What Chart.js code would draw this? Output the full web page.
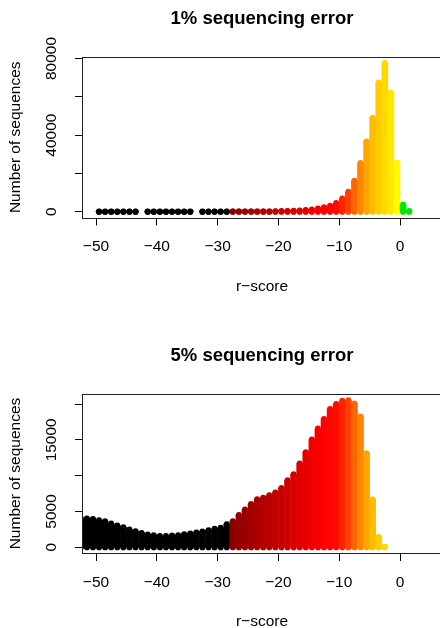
<!DOCTYPE html>
<html><head><meta charset="utf-8">
<script src="https://cdn.jsdelivr.net/npm/chart.js@4.4.1/dist/chart.umd.min.js"></script>
<style>
html,body{margin:0;padding:0;background:#fff;overflow:hidden;width:440px;height:628px;position:relative;}
.wrap{position:absolute;left:0;width:446px;height:320px;}
canvas{display:block;}
</style></head><body>
<div class="wrap" style="top:0px"><canvas id="c1" width="446" height="320"></canvas></div>
<div class="wrap" style="top:337px"><canvas id="c2" width="446" height="320"></canvas></div>
<script>
// ---------- data ----------
const titles = ['1% sequencing error', '5% sequencing error'];
const xTitle = 'r\u2212score';
const yTitle = 'Number of sequences';
const xTicks = [-50, -40, -30, -20, -10, 0];

// panel 1: 1% sequencing error (null = no sequences in that bin)
const rScore1 = [-49.5,-48.5,-47.5,-46.5,-45.5,-44.5,-43.5,-42.5,-41.5,-40.5,-39.5,-38.5,-37.5,-36.5,-35.5,-34.5,-33.5,-32.5,-31.5,-30.5,-29.5,-28.5,-27.5,-26.5,-25.5,-24.5,-23.5,-22.5,-21.5,-20.5,-19.5,-18.5,-17.5,-16.5,-15.5,-14.5,-13.5,-12.5,-11.5,-10.5,-9.5,-8.5,-7.5,-6.5,-5.5,-4.5,-3.5,-2.5,-1.5,-0.5,0.5,1.5];
const count1 = [3,4,3,5,4,6,5,null,6,8,7,9,10,12,11,14,null,15,18,22,25,30,38,45,55,65,80,100,150,240,310,400,520,680,900,1200,1650,2350,3100,4500,6900,10400,16200,25400,36700,49000,67500,77600,62300,25700,3700,400];
const yTicks1 = [0, 20000, 40000, 60000, 80000];
const yLabels1 = [0, 40000, 80000];

// panel 2: 5% sequencing error
const rScore2 = [-52.5,-51.5,-50.5,-49.5,-48.5,-47.5,-46.5,-45.5,-44.5,-43.5,-42.5,-41.5,-40.5,-39.5,-38.5,-37.5,-36.5,-35.5,-34.5,-33.5,-32.5,-31.5,-30.5,-29.5,-28.5,-27.5,-26.5,-25.5,-24.5,-23.5,-22.5,-21.5,-20.5,-19.5,-18.5,-17.5,-16.5,-15.5,-14.5,-13.5,-12.5,-11.5,-10.5,-9.5,-8.5,-7.5,-6.5,-5.5,-4.5,-3.5,-2.5];
const count2 = [4000,4000,3950,3770,3630,3300,3020,2790,2460,2230,2000,1760,1680,1580,1580,1620,1680,1820,1900,2040,2180,2370,2560,2700,3210,3630,4510,5250,6050,6700,6900,7250,7640,8280,9360,10200,11680,13270,15030,16570,17920,19320,20020,20440,20530,20060,18250,13130,6650,1440,60];
const yTicks2 = [0, 5000, 10000, 15000, 20000];
const yLabels2 = [0, 5000, 15000];

// ---------- style ----------
const FONT = "'Liberation Sans', Arial, Helvetica, sans-serif";
const rampStops = [
  [-27.5,[140,0,0]],[-12.5,[255,0,0]],[-10.5,[255,12,0]],[-9.5,[255,36,0]],[-8.5,[255,64,0]],
  [-7.5,[255,100,0]],[-6.5,[255,135,0]],[-5.5,[255,165,0]],[-4.5,[255,188,0]],[-3.5,[255,204,0]],
  [-2.5,[255,216,0]],[-1.5,[255,232,0]],[-0.5,[255,250,0]]
];
function colorFor(r) {
  if (r < -28) return '#000000';
  if (r > 0) return '#00E800';
  let c = rampStops[rampStops.length - 1][1];
  for (let i = 0; i < rampStops.length - 1; i++) {
    const [r0, c0] = rampStops[i], [r1, c1] = rampStops[i + 1];
    if (r <= r0) { c = c0; break; }
    if (r <= r1) {
      const t = (r - r0) / (r1 - r0);
      c = c0.map((v, k) => Math.round(v + (c1[k] - v) * t));
      break;
    }
  }
  return 'rgb(' + c.join(',') + ')';
}
const fmt = v => (v < 0 ? '\u2212' + Math.abs(v) : String(v));

const boxPlugin = {
  id: 'rbox',
  afterDatasetsDraw(chart) {
    const a = chart.chartArea, ctx = chart.ctx;
    ctx.save();
    ctx.strokeStyle = '#222';
    ctx.lineWidth = 1;
    ctx.strokeRect(Math.round(a.left) - 0.5, Math.round(a.top) + 0.5, Math.round(a.right - a.left), Math.round(a.bottom - a.top));
    ctx.restore();
  }
};
const yLabelPlugin = {
  id: 'ylabels',
  afterDraw(chart, args, opts) {
    const ctx = chart.ctx, ys = chart.scales.y;
    ctx.save();
    ctx.fillStyle = '#000';
    ctx.font = '15.5px ' + FONT;
    ctx.textAlign = 'center';
    ctx.textBaseline = 'middle';
    opts.labels.forEach(v => {
      const py = ys.getPixelForValue(v);
      ctx.save();
      ctx.translate(opts.x, py);
      ctx.rotate(-Math.PI / 2);
      ctx.fillText(fmt(v), 0, 0);
      ctx.restore();
    });
    ctx.restore();
  }
};

function makeChart(id, p) {
  const pts = [];
  p.r.forEach((r, i) => { if (p.n[i] !== null) pts.push({ x: r, y: p.n[i] }); });
  const cols = pts.map(d => colorFor(d.x));
  const H = 320;
  new Chart(document.getElementById(id), {
    type: 'bar',
    data: {
      datasets: [
        { type: 'bar', data: pts, backgroundColor: cols, borderWidth: 0, barThickness: 6, clip: 0 },
        { type: 'scatter', data: pts.map(d => ({ x: d.x, y: 0 })), pointRadius: 3.1, pointBackgroundColor: cols, pointBorderWidth: 0, showLine: false, clip: 0 },
        { type: 'scatter', data: pts, pointRadius: 3, pointBackgroundColor: cols, pointBorderWidth: 0, showLine: false, clip: 0 }
      ]
    },
    options: {
      responsive: false, animation: false, devicePixelRatio: 1, events: [],
      layout: { padding: { left: 0, right: 5, top: 0, bottom: 0 } },
      plugins: {
        legend: { display: false }, tooltip: { enabled: false },
        title: { display: true, text: p.title, fullSize: false, color: '#000',
          font: { family: FONT, size: 18.5, weight: 'bold' }, padding: { top: 7.9, bottom: 26.9 } },
        ylabels: { labels: p.yLabels, x: 51.5 }
      },
      scales: {
        x: {
          type: 'linear', min: -52.14, max: 6.74, offset: false,
          afterBuildTicks: s => { s.ticks = xTicks.map(v => ({ value: v })); },
          afterFit: s => { s.height = H - p.boxBottom; },
          ticks: { callback: v => fmt(v), color: '#000', font: { family: FONT, size: 15.5 }, padding: p.xPad, maxRotation: 0, minRotation: 0, autoSkip: false },
          grid: { display: true, drawOnChartArea: false, drawTicks: true, tickLength: 8, color: '#000', offset: false },
          border: { display: false },
          title: { display: true, text: xTitle, color: '#000', font: { family: FONT, size: 15.5 }, padding: { top: 0, bottom: p.xTitlePad } }
        },
        y: {
          type: 'linear', min: p.yMin, max: p.yMax,
          afterBuildTicks: s => { s.ticks = p.yTicks.map(v => ({ value: v })); },
          afterFit: s => { s.width = 83; },
          ticks: { display: false },
          grid: { display: true, drawOnChartArea: false, drawTicks: true, tickLength: 8, color: '#000' },
          border: { display: false },
          title: { display: true, text: yTitle, color: '#000', font: { family: FONT, size: 15.5 }, padding: { top: 6.7, bottom: 0 } }
        }
      }
    },
    plugins: [boxPlugin, yLabelPlugin]
  });
}

makeChart('c1', { r: rScore1, n: count1, title: titles[0], yTicks: yTicks1, yLabels: yLabels1,
  yMin: -3030, yMax: 80780, boxBottom: 217.5, xPad: 11.9, xTitlePad: 24 });
makeChart('c2', { r: rScore2, n: count2, title: titles[1], yTicks: yTicks2, yLabels: yLabels2,
  yMin: -810, yMax: 21400, boxBottom: 216, xPad: 12.7, xTitlePad: 26 });
</script>
</body></html>
